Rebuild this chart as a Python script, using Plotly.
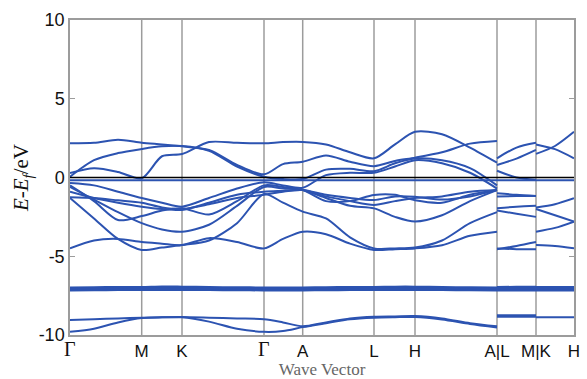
import plotly.graph_objects as go

# ---------------- data ----------------
NODE_K = [0.0, 0.717, 1.12, 1.94, 2.327, 3.04, 3.45, 4.27, 4.66, 5.04]
NODE_LABELS = ["Γ", "M", "K", "Γ", "A", "L", "H", "A|L", "M|K", "H"]

# piece 1: Γ-M-K-Γ-A-L-H-A
K1 = [0.0, 0.24, 0.48, 0.717, 0.92, 1.12, 1.39, 1.67, 1.94, 2.13, 2.327,
      2.56, 2.80, 3.04, 3.25, 3.45, 3.72, 4.00, 4.27]
# piece 2: L-M ; piece 3: K-H
K2 = [4.27, 4.465, 4.66]
K3 = [4.66, 4.85, 5.04]

BANDS1 = {
    "c1": [2.17, 2.2, 2.4, 2.21, 2.1, 1.98, 1.75, 0.8, 0.2, 0.85, 1.0, 1.4, 1.0, 0.72, 1.05, 1.26, 1.6, 2.15, 2.32],
    "c2": [0.28, 0.58, 0.35, -0.05, 1.35, 1.49, 2.25, 2.2, 2.17, 2.25, 2.26, 2.1, 1.6, 1.22, 2.1, 2.9, 2.75, 1.9, 0.94],
    "c3": [0.05, 1.1, 1.55, 1.81, 1.98, 2.0, 1.7, 0.7, 0.05, -0.1, -0.1, 0.5, 0.55, 0.4, 0.9, 1.2, 1.1, 0.6, -0.5],
    "va": [-0.35, -0.5, -0.9, -1.3, -1.6, -1.85, -1.3, -0.7, -0.3, -0.5, -0.65, 0.15, 0.3, 0.3, 0.7, 1.1, 0.9, 0.3, -0.7],
    "flat": [-0.18] * 19,
    "vb": [-0.5, -1.5, -2.7, -2.45, -2.1, -1.95, -2.35, -1.5, -0.5, -0.6, -0.8, -1.3, -1.8, -1.96, -2.5, -2.8, -2.4, -1.5, -0.8],
    "vc": [-0.9, -1.3, -1.6, -1.85, -2.0, -2.06, -1.6, -1.1, -0.9, -0.85, -0.8, -1.1, -1.3, -1.43, -1.2, -1.22, -1.4, -1.2, -0.8],
    "ve": [-0.6, -1.4, -2.2, -2.9, -3.3, -3.44, -3.0, -1.8, -0.6, -0.7, -0.8, -1.5, -1.5, -1.11, -1.1, -1.45, -1.6, -1.1, -0.8],
    "vi": [-1.25, -1.3, -1.45, -1.6, -1.9, -2.0, -1.7, -1.3, -1.1, -0.9, -0.8, -1.2, -1.5, -1.75, -1.5, -1.3, -1.2, -0.9, -0.8],
    "vd": [-1.3, -2.6, -3.9, -4.6, -4.45, -4.29, -4.0, -2.9, -1.05, -1.6, -2.17, -2.6, -3.8, -4.5, -4.5, -4.45, -4.0, -2.9, -2.2],
    "vc4": [-4.5, -4.0, -3.9, -4.1, -4.2, -4.29, -3.85, -4.1, -4.5, -3.9, -3.44, -3.6, -4.2, -4.6, -4.55, -4.5, -4.3, -3.7, -3.44],
    "d1": [-6.98, -6.97, -6.95, -6.95, -6.92, -6.93, -6.95, -6.97, -6.98, -6.98, -6.98, -6.97, -6.95, -6.95, -6.93, -6.93, -6.95, -6.97, -6.98],
    "d2": [-7.04, -7.03, -7.02, -7.02, -7.0, -7.0, -7.02, -7.03, -7.04, -7.04, -7.04, -7.03, -7.02, -7.02, -7.0, -7.0, -7.02, -7.03, -7.04],
    "d3": [-7.1, -7.1, -7.09, -7.08, -7.07, -7.07, -7.08, -7.09, -7.1, -7.1, -7.1, -7.1, -7.09, -7.08, -7.07, -7.07, -7.08, -7.09, -7.1],
    "d4": [-7.17, -7.16, -7.15, -7.15, -7.14, -7.14, -7.15, -7.16, -7.17, -7.17, -7.17, -7.16, -7.15, -7.15, -7.14, -7.14, -7.15, -7.16, -7.17],
    "bA": [-9.05, -9.0, -8.95, -8.9, -8.87, -8.86, -8.9, -8.95, -9.0, -9.2, -9.45, -9.2, -8.95, -8.84, -8.82, -8.8, -8.95, -9.25, -9.45],
    "bB": [-9.8, -9.6, -9.2, -8.92, -8.88, -8.88, -9.15, -9.6, -9.8, -9.75, -9.5, -9.25, -9.0, -8.9, -8.87, -8.86, -9.02, -9.3, -9.52],
}

BANDS2 = {
    "c1": [1.22, 1.9, 2.2],
    "c2": [0.79, 1.2, 1.75],
    "c3": [0.43, 0.0, -0.15],
    "flat": [-0.18, -0.18, -0.18],
    "v1": [-1.0, -1.1, -1.17],
    "v2": [-1.2, -1.18, -1.17],
    "v3": [-1.96, -1.85, -1.8],
    "v4": [-2.1, -2.3, -2.5],
    "v5": [-4.55, -4.35, -4.1],
    "v6": [-4.5, -4.55, -4.55],
    "d1": [-6.95, -6.94, -6.94],
    "d2": [-7.02, -7.02, -7.02],
    "d3": [-7.1, -7.1, -7.1],
    "d4": [-7.18, -7.18, -7.18],
    "b1": [-8.75, -8.75, -8.75],
    "b2": [-8.84, -8.84, -8.84],
}

BANDS3 = {
    "c1": [2.1, 1.8, 1.22],
    "c2": [1.5, 2.0, 2.9],
    "flat": [-0.18, -0.18, -0.18],
    "v1": [-1.9, -1.7, -1.32],
    "v2": [-2.0, -2.4, -2.8],
    "v3": [-3.44, -3.2, -2.8],
    "v4": [-4.29, -4.35, -4.5],
    "d1": [-6.95, -6.95, -6.95],
    "d2": [-7.02, -7.02, -7.02],
    "d3": [-7.1, -7.1, -7.1],
    "d4": [-7.18, -7.18, -7.18],
    "b1": [-8.88, -8.88, -8.88],
}

Y_TICKS = [-10, -5, 0, 5, 10]
Y_TICK_TEXT = ["-10", "-5", "0", "5", "10"]

# ---------------- figure ----------------
BLUE = "#2c53b1"
GRID = "#9c9c9c"
SERIF = "Liberation Serif, DejaVu Serif, serif"

fig = go.Figure()

# vertical high-symmetry lines
for k in NODE_K[1:-1]:
    fig.add_shape(type="line", xref="x", yref="paper", x0=k, x1=k, y0=0, y1=1,
                  line=dict(color=GRID, width=1.5), layer="below")

for kk, bands in ((K1, BANDS1), (K2, BANDS2), (K3, BANDS3)):
    for name, e in bands.items():
        fig.add_trace(go.Scatter(
            x=kk, y=e, mode="lines",
            line=dict(color=BLUE, width=2, shape="spline", smoothing=0.8),
            hoverinfo="skip", showlegend=False))

fig.add_shape(type="line", xref="x", yref="y",
              x0=NODE_K[0], x1=NODE_K[-1], y0=0, y1=0,
              line=dict(color="black", width=1.6), layer="above")

# Γ labels are drawn in serif as annotations; the other labels are tick labels
tick_vals = [k for k, lab in zip(NODE_K, NODE_LABELS) if lab != "Γ"]
tick_text = [lab for lab in NODE_LABELS if lab != "Γ"]
for k, lab in zip(NODE_K, NODE_LABELS):
    if lab == "Γ":
        fig.add_annotation(x=k, xref="x", y=0, yref="paper", text=lab,
                           showarrow=False, yanchor="top", xanchor="center",
                           yshift=-1, font=dict(family=SERIF, size=20, color="#111"))

fig.update_layout(
    width=587, height=379,
    margin=dict(l=70, r=13, t=20, b=44, autoexpand=False),
    paper_bgcolor="white", plot_bgcolor="white",
    font=dict(family="Liberation Sans, Arial, sans-serif", color="#111", size=17),
    xaxis=dict(
        range=[NODE_K[0], NODE_K[-1]], automargin=False,
        tickmode="array", tickvals=tick_vals, ticktext=tick_text,
        ticks="", showgrid=False,
        showline=True, linecolor=GRID, linewidth=1.5, mirror=True,
        zeroline=False, tickfont=dict(size=17, color="#111"),
        title=dict(text="Wave Vector", standoff=6,
                   font=dict(family=SERIF, size=17, color="#666")),
    ),
    yaxis=dict(
        range=[-10, 10], automargin=False,
        tickmode="array", tickvals=Y_TICKS, ticktext=Y_TICK_TEXT,
        ticks="inside", ticklen=5, tickcolor=GRID, tickwidth=1,
        showgrid=False, zeroline=False,
        showline=True, linecolor=GRID, linewidth=1.5, mirror="ticks",
        tickfont=dict(size=18, color="#111"),
        title=dict(text="<i>E</i>-<i>E</i><sub><i>f</i></sub>/eV", standoff=4,
                   font=dict(family=SERIF, size=21, color="#111")),
    ),
)

fig.write_html("out.html", config={"displayModeBar": False},
               post_script="document.body.style.margin='0px';")
